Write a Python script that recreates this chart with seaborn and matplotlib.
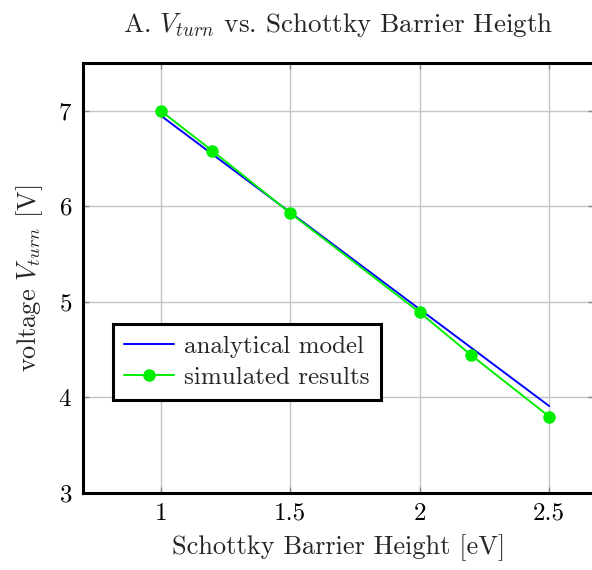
import matplotlib
matplotlib.use("Agg")
import matplotlib.pyplot as plt
import seaborn as sns
import pandas as pd

# data
analytical_x = [1.0, 2.5]
analytical_y = [6.95, 3.91]
sim_x = [1.0, 1.2, 1.5, 2.0, 2.2, 2.5]
sim_y = [7.0, 6.58, 5.93, 4.89, 4.44, 3.80]
x_ticks = [1, 1.5, 2, 2.5]
x_tick_labels = ["1", "1.5", "2", "2.5"]
y_ticks = [3, 4, 5, 6, 7]

sns.set_theme(style="white")
plt.rcParams["font.family"] = ["cmr10", "DejaVu Serif"]
plt.rcParams["mathtext.fontset"] = "cm"
plt.rcParams["axes.formatter.use_mathtext"] = True

fig = plt.figure(figsize=(5.92, 5.70), dpi=100)
ax = fig.add_axes([83/592, 77/570, 511/592, 430/570])

df_a = pd.DataFrame({"x": analytical_x, "y": analytical_y})
df_s = pd.DataFrame({"x": sim_x, "y": sim_y})
sns.lineplot(data=df_a, x="x", y="y", ax=ax, color="#0000ff", linewidth=1.4,
             label="analytical model", zorder=3)
sns.lineplot(data=df_s, x="x", y="y", ax=ax, color="#00ee00", linewidth=1.4,
             marker="o", markersize=9, markeredgewidth=0, label="simulated results",
             zorder=4)

ax.set_xlim(0.7, 2.673)
ax.set_ylim(3, 7.5)
ax.set_xticks(x_ticks)
ax.set_xticklabels(x_tick_labels)
ax.set_yticks(y_ticks)
ax.grid(True, color="#c4c4c4", linewidth=1.0)
ax.tick_params(direction="in", length=4, width=1, color="#888888",
               labelsize=18, labelcolor="black", top=True, right=True,
               bottom=True, left=True)
ax.tick_params(axis="x", pad=7)
ax.tick_params(axis="y", pad=8)
for s in ax.spines.values():
    s.set_linewidth(2.2)
    s.set_color("black")

ax.set_xlabel("Schottky Barrier Height [eV]", fontsize=19, labelpad=7)
ax.set_ylabel("voltage $V_{turn}$ [V]", fontsize=19, labelpad=9)
ax.set_title("A. $V_{turn}$ vs. Schottky Barrier Heigth", fontsize=19.5, pad=22)

leg = ax.legend(loc="lower left", bbox_to_anchor=(30/511, 93/430),
                fontsize=18, frameon=True, fancybox=False, framealpha=1,
                edgecolor="black", borderpad=0.45, handlelength=2.0,
                handletextpad=0.4, labelspacing=0.35, borderaxespad=0)
leg.get_frame().set_linewidth(2.2)

fig.savefig("out.png", dpi=100)
